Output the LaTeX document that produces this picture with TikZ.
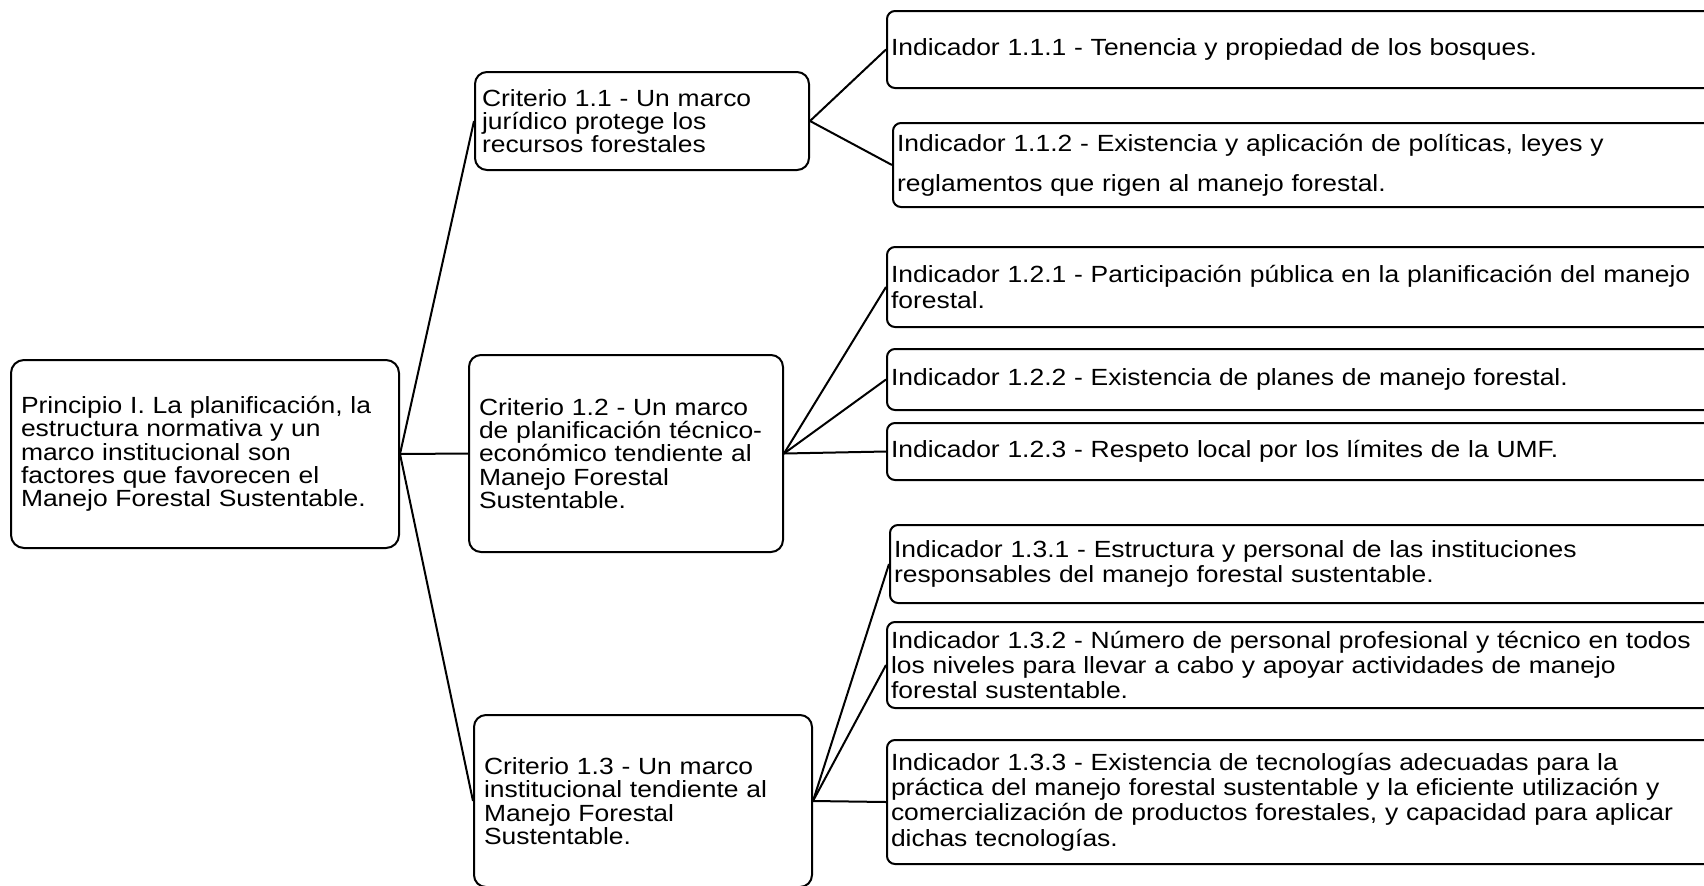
\documentclass[tikz,border=0pt]{standalone}
\usepackage{fontspec}
\setmainfont{Liberation Sans}[FakeStretch=1.13]
\usepackage{tikz}
\tikzstyle{principio} = [rectangle, rounded corners=6.5pt, draw=black, line width=1pt,
fill=white, anchor=west, align=left, inner xsep=5pt, inner ysep=0pt,
font=\fontsize{11.7}{11.65}\selectfont]
\tikzstyle{criterio} = [rectangle, rounded corners=6pt, draw=black, line width=1pt,
fill=white, anchor=west, align=left, inner xsep=5pt, inner ysep=0pt,
font=\fontsize{11.7}{11.65}\selectfont]
\tikzstyle{indicador} = [rectangle, rounded corners=4pt, draw=black, line width=1pt,
fill=white, anchor=west, align=left, inner xsep=2pt, inner ysep=0pt, text width=420pt,
font=\fontsize{11.7}{12.7}\selectfont]
\tikzstyle{linea} = [line width=1pt]
\begin{document}
\begin{tikzpicture}[x=0.5pt, y=-0.5pt]
\useasboundingbox (0,0) rectangle (1704,885);
\clip (0,0) rectangle (1704,885);
% principio
\node (p1) [principio, text width=184pt, minimum height=94pt] at (10,454) {Principio I. La planificación, la\\estructura normativa y un\\marco institucional son\\factores que favorecen el\\Manejo Forestal Sustentable.};
% criterios
\node (c1) [criterio, inner xsep=3.5pt, text width=160pt, minimum height=49pt] at (474,121) {Criterio 1.1 - Un marco\\jurídico protege los\\recursos forestales};
\node (c2) [criterio, text width=147pt, minimum height=98.5pt] at (468,453.5) {Criterio 1.2 - Un marco\\de planificación técnico-\\económico tendiente al\\Manejo Forestal\\Sustentable.};
\node (c3) [criterio, text width=159pt, minimum height=86pt] at (473,801) {Criterio 1.3 - Un marco\\institucional tendiente al\\Manejo Forestal\\Sustentable.};
% indicadores
\node (i111) [indicador, minimum height=38.5pt] at (886,49.5) {Indicador 1.1.1 - Tenencia y propiedad de los bosques.};
\node (i112) [indicador, minimum height=42pt, font=\fontsize{11.7}{20}\selectfont] at (892,165) {Indicador 1.1.2 - Existencia y aplicación de políticas, leyes y\\reglamentos que rigen al manejo forestal.};
\node (i121) [indicador, minimum height=40pt] at (886,287) {Indicador 1.2.1 - Participación pública en la planificación del manejo\\forestal.};
\node (i122) [indicador, minimum height=30.5pt] at (886,379.5) {Indicador 1.2.2 - Existencia de planes de manejo forestal.};
\node (i123) [indicador, minimum height=28.5pt] at (886,451.5) {Indicador 1.2.3 - Respeto local por los límites de la UMF.};
\node (i131) [indicador, minimum height=39pt] at (889,564) {Indicador 1.3.1 - Estructura y personal de las instituciones\\responsables del manejo forestal sustentable.};
\node (i132) [indicador, minimum height=43pt] at (886,665) {Indicador 1.3.2 - Número de personal profesional y técnico en todos\\los niveles para llevar a cabo y apoyar actividades de manejo\\forestal sustentable.};
\node (i133) [indicador, minimum height=62pt] at (886,802) {Indicador 1.3.3 - Existencia de tecnologías adecuadas para la\\práctica del manejo forestal sustentable y la eficiente utilización y\\comercialización de productos forestales, y capacidad para aplicar\\dichas tecnologías.};
% lineas
\draw [linea] (p1.east) -- (c1.west);
\draw [linea] (p1.east) -- (c2.west);
\draw [linea] (p1.east) -- (c3.west);
\draw [linea] (c1.east) -- (i111.west);
\draw [linea] (c1.east) -- (i112.west);
\draw [linea] (c2.east) -- (i121.west);
\draw [linea] (c2.east) -- (i122.west);
\draw [linea] (c2.east) -- (i123.west);
\draw [linea] (c3.east) -- (i131.west);
\draw [linea] (c3.east) -- (i132.west);
\draw [linea] (c3.east) -- (i133.west);
\end{tikzpicture}
\end{document}
